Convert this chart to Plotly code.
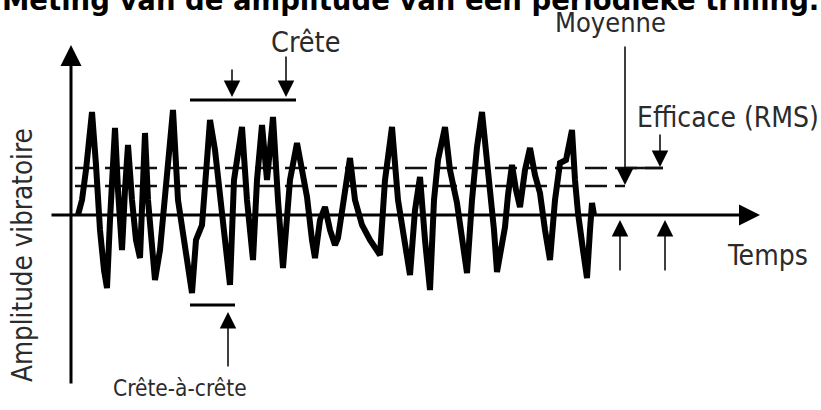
import plotly.graph_objects as go

# ---- data (time in arbitrary units, amplitude in arbitrary units) ----
time = [7, 11, 15, 21, 25, 29, 33, 36, 39, 42, 44, 47, 51, 54, 57, 61, 65, 69, 71, 74,
        77, 81, 84, 89, 94, 99, 102, 107, 114, 121, 125, 131, 136, 139, 144, 149, 155, 159,
        163, 167, 171, 176, 182, 186, 191, 196, 202, 207, 212, 219, 226, 231, 236, 241, 244,
        249, 254, 259, 264, 267, 272, 279, 284, 291, 299, 309, 314, 321, 327, 334, 339, 344,
        349, 354, 359, 363, 367, 374, 379, 386, 391, 396, 401, 406, 411, 415, 419, 423, 426,
        431, 434, 437, 441, 445, 449, 454, 459, 464, 469, 474, 479, 484, 489, 495, 501, 504,
        507, 512, 516, 519, 521, 523]
amplitude = [0, 15, 45, 103, 50, -15, -55, -73, -5, 65, 87, 25, -35, 25, 70, 15, -25, -43, 15, 82,
             15, -35, -65, -35, 15, 75, 105, 15, -35, -78, -25, -10, 55, 95, 65, 15, -35, -70,
             35, 65, 88, 15, -45, 35, 90, 35, 98, 15, -53, 35, 72, 45, 18, -25, -43,
             -5, 8, -15, -30, -23, 15, 57, 15, -10, -25, -40, 35, 88, 15, -35, -60, 5,
             38, -25, -75, 15, 55, 88, 45, 12, -25, -58, 15, 68, 103, 65, 35, -15, -57,
             -25, -12, 20, 50, 25, 8, 45, 67, 40, 22, -15, -45, 15, 52, 55, 85, 35,
             2, -35, -63, -15, 12, 0]
mean_level = 29
rms_level = 47
peak_level = 115
trough_level = -90

title_text = "Meting van de amplitude van een periodieke trilling."
label_peak = "Crête"
label_p2p = "Crête-à-crête"
label_mean = "Moyenne"
label_rms = "Efficace (RMS)"
label_time = "Temps"
label_amp = "Amplitude vibratoire"

FAM = "DejaVu Sans Condensed, DejaVu Sans, sans-serif"
COL = "#2b2b2b"

fig = go.Figure()
fig.add_trace(go.Scatter(x=[4, 554], y=[mean_level, mean_level], mode="lines",
                         line=dict(color="#111111", width=2.5, dash="22px,8px"), hoverinfo="skip"))
fig.add_trace(go.Scatter(x=[4, 592], y=[rms_level, rms_level], mode="lines",
                         line=dict(color="#111111", width=2.5, dash="22px,8px"), hoverinfo="skip"))
fig.add_trace(go.Scatter(x=time, y=amplitude, mode="lines",
                         line=dict(color="black", width=6), hoverinfo="skip"))

shapes = [
    dict(type="line", xref="x", yref="y", x0=119, x1=225, y0=peak_level, y1=peak_level,
         line=dict(color="black", width=3)),
    dict(type="line", xref="x", yref="y", x0=119, x1=164, y0=trough_level, y1=trough_level,
         line=dict(color="black", width=3)),
    dict(type="line", xref="x", yref="y", x0=554, x1=592, y0=rms_level, y1=rms_level,
         line=dict(color="#111111", width=2.5)),
]

def arrow(x, y, ax, ay, w=1.5, size=2.2):
    return dict(x=x, y=y, ax=ax, ay=ay, xref="x", yref="y", axref="x", ayref="y",
                showarrow=True, arrowhead=2, arrowwidth=w, arrowsize=size,
                arrowcolor="black", text="")

annotations = [
    # axes
    arrow(0, 170, 0, -170, w=3, size=1.4),
    arrow(689, 0, -21, 0, w=3, size=1.4),
    # peak arrows
    arrow(161, peak_level + 3, 161, 147),
    arrow(215, peak_level + 3, 215, 160),
    # peak-to-peak arrow
    arrow(157, trough_level - 7, 157, -153),
    # mean arrow
    arrow(554, mean_level + 1, 554, 170),
    # rms arrow
    arrow(589, rms_level + 1, 589, 82),
    # up arrows from below
    arrow(549, -5, 549, -57),
    arrow(594, -5, 594, -57),
]

def label(text, x, y, size, angle=0):
    return dict(text=text, x=x, y=y, xref="x", yref="y", showarrow=False,
                font=dict(family=FAM, size=size, color=COL), textangle=angle,
                xanchor="center", yanchor="middle")

annotations += [
    label(label_peak, 234, 173, 28.5),
    label(label_p2p, 109, -173, 22.5),
    label(label_mean, 539, 193, 27),
    label(label_rms, 657, 98, 28),
    label(label_time, 696, -40, 28),
    label(label_amp, -49, -40, 27.5, angle=-90),
    dict(text="<b>" + title_text + "</b>", x=0.5, y=1, xref="paper", yref="paper",
         showarrow=False, xanchor="center", yanchor="middle", yshift=0,
         font=dict(family="DejaVu Sans, sans-serif", size=27.5, color="black")),
]

fig.update_layout(
    width=821, height=410, autosize=False,
    margin=dict(l=0, r=0, t=0, b=0),
    paper_bgcolor="white", plot_bgcolor="white",
    showlegend=False,
    xaxis=dict(range=[-71, 750], visible=False, fixedrange=True),
    yaxis=dict(range=[-195, 215], visible=False, fixedrange=True),
    shapes=shapes, annotations=annotations,
)

fig.write_html("out.html", config={"displayModeBar": False},
               post_script="document.body.style.margin='0';")
